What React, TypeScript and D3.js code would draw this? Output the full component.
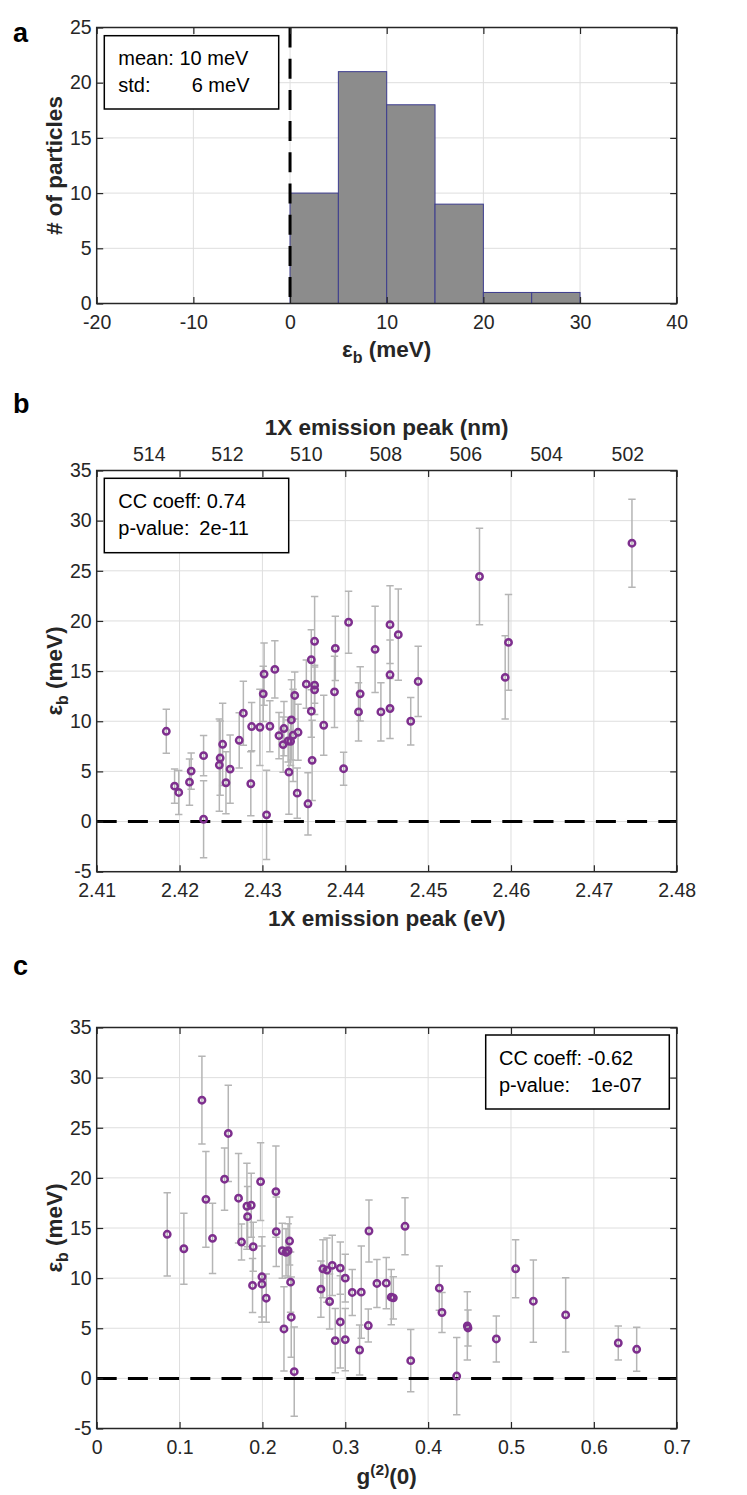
import React, { useEffect, useRef } from 'react';
import * as d3 from 'd3';

const peakEv = [
  2.4184, 2.4194, 2.4199, 2.4212, 2.4214, 2.4229, 2.4229, 2.4248, 2.4249, 2.4252,
  2.4256, 2.4261, 2.4272, 2.4277, 2.4286, 2.4287, 2.4297, 2.4301, 2.4302, 2.4305,
  2.4309, 2.4315, 2.4320, 2.4325, 2.4326, 2.4331, 2.4332, 2.4334, 2.4335, 2.4337,
  2.4339, 2.4342, 2.4343, 2.4353, 2.4355, 2.4359, 2.4359, 2.4360, 2.4363, 2.4363,
  2.4363, 2.4374, 2.4387, 2.4388, 2.4398, 2.4404, 2.4416, 2.4418, 2.4436, 2.4443,
  2.4454, 2.4454, 2.4454, 2.4464, 2.4479, 2.4488, 2.4562, 2.4593, 2.4597, 2.4746,
];
const g2zero = [
  0.4135, 0.6295, 0.6517, 0.4823, 0.4481, 0.4167, 0.4345, 0.2940, 0.5660, 0.5270,
  0.3000, 0.4473, 0.3555, 0.2779, 0.2879, 0.3382, 0.1994, 0.2240, 0.3286, 0.2384,
  0.3495, 0.3721, 0.3084, 0.2811, 0.1881, 0.3580, 0.2260, 0.2046, 0.1994, 0.3193,
  0.2285, 0.3173, 0.2706, 0.2328, 0.3790, 0.1821, 0.2940, 0.2348, 0.1712, 0.1748,
  0.1889, 0.2340, 0.1052, 0.1865, 0.3278, 0.1543, 0.2730, 0.2310, 0.1813, 0.5056,
  0.1978, 0.2167, 0.2843, 0.2163, 0.3000, 0.1398, 0.1588, 0.0851, 0.1318, 0.1270,
];
const ebMeV = [
  9.0, 3.53, 2.9, 3.93, 5.03, 6.57, 0.23, 5.63, 6.33, 7.7,
  3.87, 5.23, 8.1, 10.8, 3.77, 9.47, 9.4, 12.73, 14.7, 0.67,
  9.5, 15.17, 8.57, 7.67, 9.27, 8.03, 4.93, 8.0, 10.13, 8.6,
  12.57, 2.83, 8.9, 13.7, 1.77, 16.13, 11.0, 6.1, 17.97, 13.6,
  13.13, 9.6, 12.93, 17.27, 5.27, 19.87, 10.93, 12.73, 17.17, 10.93,
  19.63, 14.63, 11.27, 18.63, 10.0, 13.97, 24.43, 14.37, 17.86, 27.75,
];
const ebErr = [
  2.2, 1.7, 2.2, 2.3, 1.8, 2.0, 3.85, 4.6, 3.7, 4.1,
  3.1, 3.4, 2.75, 3.2, 3.2, 2.4, 3.8, 2.75, 3.1, 4.45,
  2.55, 2.85, 2.3, 2.75, 2.7, 2.1, 4.2, 2.4, 4.0, 4.6,
  2.35, 2.5, 2.8, 2.4, 3.1, 3.0, 2.6, 4.0, 4.47, 1.8,
  2.45, 3.0, 3.55, 3.2, 1.65, 3.1, 2.9, 2.7, 4.3, 2.9,
  3.87, 3.47, 3.0, 4.55, 2.37, 3.5, 4.8, 4.15, 4.77, 4.38,
];

const histEdges = [-20, -15, -10, -5, 0, 5, 10, 15, 20, 25, 30, 35, 40];
const histTicksX = [-20, -10, 0, 10, 20, 30, 40];
const histTicksY = [0, 5, 10, 15, 20, 25];
const evTicks = [2.41, 2.42, 2.43, 2.44, 2.45, 2.46, 2.47, 2.48];
const nmTicks = [514, 512, 510, 508, 506, 504, 502];
const ebTicks = [-5, 0, 5, 10, 15, 20, 25, 30, 35];
const g2Ticks = [0, 0.1, 0.2, 0.3, 0.4, 0.5, 0.6, 0.7];

const W = 747;
const H = 1495;
const FONT = '"Liberation Sans", Arial, Helvetica, sans-serif';
const INK = '#262626';
const GRID = '#dedede';
const PURPLE = '#7e2f8e';
const ERR = '#b5b5b5';
const LEFT = 96.7;
const RIGHT = 676.7;
const TICK = 6.5;
const TICK_FS = 19.5;
const TITLE_FS = 22.5;

type Sel = d3.Selection<any, unknown, null, undefined>;
type Lin = d3.ScaleLinear<number, number>;

function drawGrid(g: Sel, x: Lin, y: Lin, xt: number[], yt: number[]) {
  const [yb, ytop] = y.range();
  const grid = g.append('g').attr('stroke', GRID).attr('stroke-width', 1);
  grid.selectAll('line.gx').data(xt).enter().append('line')
    .attr('x1', d => x(d)).attr('x2', d => x(d)).attr('y1', ytop).attr('y2', yb);
  grid.selectAll('line.gy').data(yt).enter().append('line')
    .attr('x1', LEFT).attr('x2', RIGHT).attr('y1', d => y(d)).attr('y2', d => y(d));
}

function drawBox(g: Sel, x: Lin, y: Lin, xt: number[], yt: number[]) {
  const [yb, ytop] = y.range();
  const fmt = (d: any) => String(d);
  const style = (a: Sel) => {
    a.attr('font-size', TICK_FS).attr('font-family', FONT).attr('color', INK);
    a.selectAll('.domain').remove();
    a.selectAll('.tick line').attr('stroke-width', 1.2);
    a.selectAll('.tick text').attr('fill', INK);
  };
  g.append('g').attr('transform', `translate(0,${yb})`)
    .call(d3.axisBottom(x).tickValues(xt).tickFormat(fmt).tickSize(-TICK).tickPadding(11.8))
    .call(style);
  g.append('g').attr('transform', `translate(0,${ytop})`)
    .call(d3.axisTop(x).tickValues(xt).tickFormat(() => '').tickSize(-TICK))
    .call(style);
  g.append('g').attr('transform', `translate(${LEFT},0)`)
    .call(d3.axisLeft(y).tickValues(yt).tickFormat(fmt).tickSize(-TICK).tickPadding(5))
    .call(style);
  g.append('g').attr('transform', `translate(${RIGHT},0)`)
    .call(d3.axisRight(y).tickValues(yt).tickFormat(() => '').tickSize(-TICK))
    .call(style);
  g.append('rect')
    .attr('x', LEFT).attr('y', ytop).attr('width', RIGHT - LEFT).attr('height', yb - ytop)
    .attr('fill', 'none').attr('stroke', INK).attr('stroke-width', 1.5);
}

function drawLegend(g: Sel, box: number[], rows: { t: string; x: number; y: number }[]) {
  g.append('rect')
    .attr('x', box[0]).attr('y', box[1]).attr('width', box[2]).attr('height', box[3])
    .attr('fill', 'white').attr('stroke', '#000').attr('stroke-width', 1.5);
  rows.forEach(r => {
    g.append('text').attr('x', r.x).attr('y', r.y)
      .attr('font-family', FONT).attr('font-size', 20).attr('fill', '#000').text(r.t);
  });
}

function ebTitle(g: Sel, transform: string) {
  const t = g.append('text').attr('transform', transform)
    .attr('text-anchor', 'middle').attr('font-family', FONT).attr('font-weight', 'bold')
    .attr('font-size', TITLE_FS).attr('fill', INK);
  t.append('tspan').text('ε');
  t.append('tspan').attr('font-size', 16).attr('dy', 6).text('b');
  t.append('tspan').attr('dy', -6).text(' (meV)');
}

function panelLabel(g: Sel, s: string, y: number) {
  g.append('text').attr('x', 13).attr('y', y)
    .attr('font-family', FONT).attr('font-weight', 'bold').attr('font-size', 27)
    .attr('fill', '#000').text(s);
}

function drawScatter(g: Sel, x: Lin, y: Lin, xs: number[]) {
  const idx = d3.range(xs.length);
  const cap = 3.7;
  const bars = g.append('g').attr('stroke', ERR).attr('stroke-width', 1.5).attr('fill', 'none');
  bars.selectAll('path').data(idx).enter().append('path')
    .attr('d', i => {
      const cx = x(xs[i]);
      const hi = y(ebMeV[i] + ebErr[i]);
      const lo = y(ebMeV[i] - ebErr[i]);
      return `M${cx},${hi}V${lo}M${cx - cap},${hi}H${cx + cap}M${cx - cap},${lo}H${cx + cap}`;
    });
  // zero line
  g.append('line')
    .attr('x1', LEFT).attr('x2', RIGHT).attr('y1', y(0)).attr('y2', y(0))
    .attr('stroke', '#000').attr('stroke-width', 3).attr('stroke-dasharray', '20 11.2');
  g.append('g').selectAll('circle').data(idx).enter().append('circle')
    .attr('cx', i => x(xs[i])).attr('cy', i => y(ebMeV[i])).attr('r', 3.2)
    .attr('fill', 'none').attr('stroke', PURPLE).attr('stroke-width', 2.5);
}

const App: React.FC = () => {
  const svgRef = useRef<SVGSVGElement>(null);

  useEffect(() => {
    const svg = d3.select(svgRef.current);
    svg.selectAll('*').remove();
    svg.append('rect').attr('width', W).attr('height', H).attr('fill', 'white');
    const root: Sel = svg.append('g');

    // ---- a: histogram
    const xa = d3.scaleLinear().domain([-20, 40]).range([LEFT, RIGHT]);
    const ya = d3.scaleLinear().domain([0, 25]).range([303.5, 27.5]);
    const bins = d3.bin().domain([-20, 40]).thresholds(histEdges.slice(1, -1))(ebMeV);
    drawGrid(root, xa, ya, histTicksX, histTicksY);
    root.append('g').selectAll('rect').data(bins.filter(b => b.length > 0)).enter().append('rect')
      .attr('x', b => xa(b.x0!)).attr('width', b => xa(b.x1!) - xa(b.x0!))
      .attr('y', b => ya(b.length)).attr('height', b => ya(0) - ya(b.length))
      .attr('fill', '#8c8c8c').attr('stroke', '#3c3c8e').attr('stroke-width', 1);
    root.append('line')
      .attr('x1', xa(0)).attr('x2', xa(0)).attr('y1', ya(25)).attr('y2', ya(0))
      .attr('stroke', '#000').attr('stroke-width', 3).attr('stroke-dasharray', '20 11.2');
    drawBox(root, xa, ya, histTicksX, histTicksY);
    drawLegend(root, [104.3, 35.7, 174.4, 73.3], [
      { t: 'mean: 10 meV', x: 118.3, y: 65 },
      { t: 'std:', x: 118.3, y: 91.7 },
      { t: '6 meV', x: 191.7, y: 91.7 },
    ]);
    ebTitle(root, `translate(${(LEFT + RIGHT) / 2},357)`);
    root.append('text').attr('transform', 'translate(62,165.5) rotate(-90)')
      .attr('text-anchor', 'middle').attr('font-family', FONT).attr('font-weight', 'bold')
      .attr('font-size', TITLE_FS).attr('fill', INK).text('# of particles');
    panelLabel(root, 'a', 41.7);

    // ---- b: eb vs emission peak
    const xb = d3.scaleLinear().domain([2.41, 2.48]).range([LEFT, RIGHT]);
    const yb = d3.scaleLinear().domain([-5, 35]).range([871.7, 470.5]);
    drawGrid(root, xb, yb, evTicks, ebTicks);
    drawScatter(root, xb, yb, peakEv);
    drawBox(root, xb, yb, evTicks, ebTicks);
    root.append('g').selectAll('text').data(nmTicks).enter().append('text')
      .attr('x', d => xb(1242 / d)).attr('y', 461).attr('text-anchor', 'middle')
      .attr('font-family', FONT).attr('font-size', TICK_FS).attr('fill', INK)
      .text(d => String(d));
    root.append('text').attr('x', (LEFT + RIGHT) / 2).attr('y', 435)
      .attr('text-anchor', 'middle').attr('font-family', FONT).attr('font-weight', 'bold')
      .attr('font-size', TITLE_FS).attr('fill', INK).text('1X emission peak (nm)');
    root.append('text').attr('x', (LEFT + RIGHT) / 2).attr('y', 926)
      .attr('text-anchor', 'middle').attr('font-family', FONT).attr('font-weight', 'bold')
      .attr('font-size', TITLE_FS).attr('fill', INK).text('1X emission peak (eV)');
    ebTitle(root, 'translate(62,671) rotate(-90)');
    drawLegend(root, [104.3, 478.3, 184.4, 74.4], [
      { t: 'CC coeff: 0.74', x: 118.3, y: 508.3 },
      { t: 'p-value:', x: 118.3, y: 535 },
      { t: '2e-11', x: 199.3, y: 535 },
    ]);
    panelLabel(root, 'b', 413.3);

    // ---- c: eb vs g2(0)
    const xc = d3.scaleLinear().domain([0, 0.7]).range([LEFT, RIGHT]);
    const yc = d3.scaleLinear().domain([-5, 35]).range([1428.5, 1027.5]);
    drawGrid(root, xc, yc, g2Ticks, ebTicks);
    drawScatter(root, xc, yc, g2zero);
    drawBox(root, xc, yc, g2Ticks, ebTicks);
    const gt = root.append('text').attr('x', (LEFT + RIGHT) / 2).attr('y', 1484)
      .attr('text-anchor', 'middle').attr('font-family', FONT).attr('font-weight', 'bold')
      .attr('font-size', TITLE_FS).attr('fill', INK);
    gt.append('tspan').text('g');
    gt.append('tspan').attr('font-size', 15.5).attr('dy', -9).text('(2)');
    gt.append('tspan').attr('dy', 9).text('(0)');
    ebTitle(root, 'translate(62,1228) rotate(-90)');
    drawLegend(root, [485.7, 1035, 183.6, 74], [
      { t: 'CC coeff: -0.62', x: 499, y: 1065 },
      { t: 'p-value:', x: 499, y: 1091.7 },
      { t: '1e-07', x: 590.7, y: 1091.7 },
    ]);
    panelLabel(root, 'c', 975);
  }, []);

  return (
    <div style={{ position: 'absolute', left: 0, top: 0 }}>
      <svg ref={svgRef} width={W} height={H} style={{ display: 'block' }} />
    </div>
  );
};

export default App;
